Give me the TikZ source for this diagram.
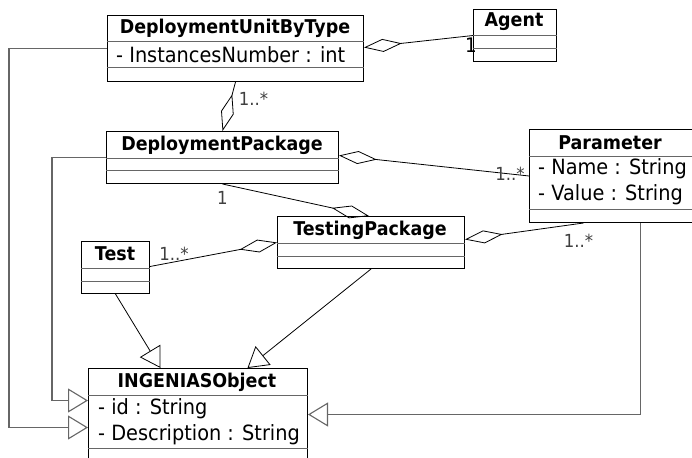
\documentclass[tikz,border=0pt]{standalone}
\usepackage{fontspec}
\setmainfont{DejaVu Sans}[FakeStretch=0.92]
\usepackage{tikz}
\usetikzlibrary{arrows.meta, positioning, calc}

\begin{document}
\begin{tikzpicture}[
  x=1pt, y=-1pt,
  classbox/.style={rectangle, draw, line width=1pt, inner sep=0pt, anchor=north west},
  classname/.style={font=\fontsize{19}{22}\selectfont\bfseries, inner sep=0pt},
  attr/.style={font=\fontsize{21}{24}\selectfont, inner sep=0pt, anchor=west},
  mult/.style={font=\fontsize{18}{21}\selectfont, text=black!75, inner sep=0pt},
  sepline/.style={draw=black!60, line width=1pt},
  aggr/.style={-{Diamond[open, length=38pt, width=13pt]}, line width=0.8pt},
  gen/.style={-{Triangle[open, length=20pt, width=24pt]}, line width=0.8pt},
  genlong/.style={gen, draw=black!60, line width=1.1pt}
]
\useasboundingbox (0,0) rectangle (692,457);

% Classes
\node[classbox, minimum width=256pt, minimum height=66pt] (dubt) at (107,15) {};
\node[classbox, minimum width=83pt, minimum height=52pt] (agent) at (473,9) {};
\node[classbox, minimum width=232pt, minimum height=52pt] (dp) at (106,131) {};
\node[classbox, minimum width=163pt, minimum height=93pt] (param) at (529,129) {};
\node[classbox, minimum width=187pt, minimum height=52pt] (tp) at (277,216) {};
\node[classbox, minimum width=68pt, minimum height=52pt] (test) at (81,241) {};
\node[classbox, minimum width=219pt, minimum height=92pt] (ingo) at (88,368) {};

% Compartments
\foreach \c/\a/\b in {dubt/27/53, agent/27/40, dp/27/39, param/27/80, tp/27/40, test/27/40, ingo/27/80} {
  \draw[sepline] ([yshift=-\a pt]\c.north west) -- ([yshift=-\a pt]\c.north east);
  \draw[sepline] ([yshift=-\b pt]\c.north west) -- ([yshift=-\b pt]\c.north east);
}

% Names
\node[classname] (dubtname) at (235,28) {DeploymentUnitByType};
\node[classname] (agentname) at (514,22) {Agent};
\node[classname] (dpname) at (222,145) {DeploymentPackage};
\node[classname] (paramname) at (610,143) {Parameter};
\node[classname] (tpname) at (370,230) {TestingPackage};
\node[classname] (testname) at (115,254) {Test};
\node[classname] (ingoname) at (197,382) {INGENIASObject};

% Attributes
\node[attr] (instnum) at (116,55) {- InstancesNumber : int};
\node[attr] (pname) at (538,169) {- Name : String};
\node[attr] (pvalue) at (538,195) {- Value : String};
\node[attr] (oid) at (98,409) {- id : String};
\node[attr] (odesc) at (98,435) {- Description : String};

% Aggregations
\draw[aggr] (agent.west) -- ([yshift=1pt]dubt.east);
\node[mult, font=\fontsize{20}{23}\selectfont, text=black] (m1) at ([xshift=-2pt, yshift=-10pt]agent.west) {1};
\draw[aggr] (dubt.south) -- (dp.north);
\node[mult] (m2) at ([xshift=18pt, yshift=-17pt]dubt.south) {1..*};
\draw[aggr] (param.west) -- ([yshift=2pt]dp.east);
\node[mult] (m3) at ([xshift=-19pt, yshift=2pt]param.west) {1..*};
\draw[aggr] (dp.south) -- ([xshift=-2pt]tp.north);
\node[mult] (m4) at ([yshift=-14pt]dp.south) {1};
\draw[aggr] ([yshift=1pt]test.east) -- (tp.west);
\node[mult] (m5) at ([xshift=24pt, yshift=14pt]test.east) {1..*};
\draw[aggr] ([xshift=-27.5pt]param.south) -- ([yshift=3pt]tp.east);
\node[mult] (m6) at ([xshift=-32.5pt, yshift=-18pt]param.south) {1..*};

% Generalizations
\draw[gen] (test.south) -- ([xshift=-37.5pt]ingo.north);
\draw[gen] (tp.south) -- ([xshift=49.5pt]ingo.north);
\draw[genlong] (dubt.west) -- ++(-98,0) |- ([yshift=-13pt]ingo.west);
\draw[genlong] (dp.west) -- ++(-54,0) |- ([yshift=14pt]ingo.west);
\draw[genlong] ([xshift=29.5pt]param.south) |- (ingo.east);

\end{tikzpicture}
\end{document}
